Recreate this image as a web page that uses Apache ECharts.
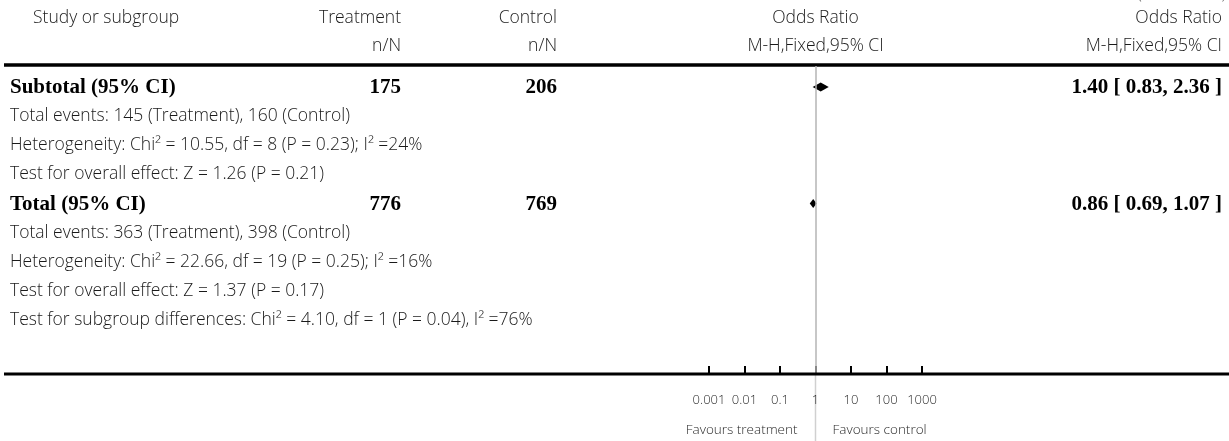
<!DOCTYPE html>
<html>
<head>
<meta charset="utf-8">
<script src="https://cdn.jsdelivr.net/npm/echarts@6/dist/echarts.min.js"></script>
<style>
  html, body { margin: 0; padding: 0; background: #fff; }
  #chart { width: 1229px; height: 441px; }
</style>
</head>
<body>
<div id="chart"></div>
<script>
// Column headings
const headerTop = ['Study or subgroup', 'Treatment', 'Control', 'Odds Ratio', 'Odds Ratio'];
const headerSub = ['', 'n/N', 'n/N', 'M-H,Fixed,95% CI', 'M-H,Fixed,95% CI'];

// Pooled estimates (row index in the table body)
const pooledLabels = ['Subtotal (95% CI)', 'Total (95% CI)'];
const pooledRows = [0, 4];
const treatmentN = [175, 776];
const controlN = [206, 769];
const oddsRatio = [1.40, 0.86];
const ciLower = [0.83, 0.69];
const ciUpper = [2.36, 1.07];

// Summary notes under each pooled row
const noteRows = [1, 2, 3, 5, 6, 7, 8];
const noteLines = [
  'Total events: 145 (Treatment), 160 (Control)',
  'Heterogeneity: Chi\u00b2 = 10.55, df = 8 (P = 0.23); I\u00b2 =24%',
  'Test for overall effect: Z = 1.26 (P = 0.21)',
  'Total events: 363 (Treatment), 398 (Control)',
  'Heterogeneity: Chi\u00b2 = 22.66, df = 19 (P = 0.25); I\u00b2 =16%',
  'Test for overall effect: Z = 1.37 (P = 0.17)',
  'Test for subgroup differences: Chi\u00b2 = 4.10, df = 1 (P = 0.04), I\u00b2 =76%'
];

// Log axis ticks
const tickValues = [0.001, 0.01, 0.1, 1, 10, 100, 1000];
const tickLabels = ['0.001', '0.01', '0.1', '1', '10', '100', '1000'];
const favourLabels = ['Favours treatment', 'Favours control'];
const nullEffect = 1;

const SANS = '"Open Sans", Lato, "DejaVu Sans", sans-serif';
const SERIF = '"Liberation Serif", "DejaVu Serif", serif';
const INK = '#1a1a1a';
const axisY = 374;

const chart = echarts.init(document.getElementById('chart'), null, { renderer: 'canvas' });

chart.setOption({
  animation: false,
  backgroundColor: '#fff',
  grid: { left: 709, right: 307, top: 66, bottom: 441 - axisY, containLabel: false },
  xAxis: {
    type: 'log',
    logBase: 10,
    position: 'bottom',
    min: tickValues[0],
    max: tickValues[tickValues.length - 1],
    axisLine: { show: false, onZero: false },
    axisTick: { show: true, inside: true, length: 8, lineStyle: { color: '#000', width: 2 } },
    splitLine: { show: false },
    axisLabel: {
      show: true,
      margin: 20,
      color: '#2a2a2a',
      fontFamily: SANS,
      fontWeight: 300,
      fontSize: 13,
      showMinLabel: true,
      showMaxLabel: true,
      formatter: function (v) {
        let best = 0;
        tickValues.forEach(function (t, i) {
          if (Math.abs(Math.log10(t) - Math.log10(v)) < Math.abs(Math.log10(tickValues[best]) - Math.log10(v))) best = i;
        });
        return tickLabels[best];
      }
    }
  },
  yAxis: {
    type: 'value',
    inverse: true,
    min: -0.72,
    max: 9.85,
    show: false
  },
  series: [
    {
      type: 'custom',
      z: 1,
      silent: true,
      data: [],
      renderItem: function () { return null; },
      markLine: {
        silent: true,
        symbol: 'none',
        label: { show: false },
        lineStyle: { color: '#b4b4b4', width: 1.5, type: 'solid' },
        data: [{ xAxis: nullEffect }]
      }
    },
    {
      type: 'custom',
      z: 3,
      silent: true,
      data: pooledRows.map(function (r, i) { return [oddsRatio[i], ciLower[i], ciUpper[i], r]; }),
      encode: { x: [0, 1, 2], y: 3 },
      renderItem: function (params, api) {
        const row = api.value(3);
        const c = api.coord([api.value(0), row]);
        const lo = api.coord([api.value(1), row]);
        const hi = api.coord([api.value(2), row]);
        const hh = 4.5;
        return {
          type: 'polygon',
          shape: { points: [[lo[0], c[1]], [c[0], c[1] - hh], [hi[0], c[1]], [c[0], c[1] + hh]] },
          style: { fill: '#000', stroke: null }
        };
      }
    }
  ]
});

// Table text and rules, placed on the same row scale as the diamonds
const rowY = function (r) { return chart.convertToPixel({ yAxisIndex: 0 }, r); };
const nullX = chart.convertToPixel({ xAxisIndex: 0 }, nullEffect);

const graphics = [];
function addText(x, y, text, align, font) {
  graphics.push({
    type: 'text', x: x, y: y, silent: true,
    style: Object.assign({ text: text, align: align, verticalAlign: 'middle', fill: INK }, font)
  });
}
const regular = { fontFamily: SANS, fontSize: 17.5, fontWeight: 300 };
const heading = { fontFamily: SANS, fontSize: 17.5, fontWeight: 300 };
const bold = { fontFamily: SERIF, fontSize: 21, fontWeight: 'bold', fill: '#000' };

// header
const headX = [33, 401, 557, nullX, 1222];
const headAlign = ['left', 'right', 'right', 'center', 'right'];
headerTop.forEach(function (t, i) { addText(headX[i], 18, t, headAlign[i], heading); });
headerSub.forEach(function (t, i) { if (t) addText(headX[i], 46, t, headAlign[i], heading); });
addText(1226, -6, '(Continued)', 'right', { fontFamily: SANS, fontSize: 17, fontWeight: 300, fill: '#666' });

// pooled rows
pooledRows.forEach(function (r, i) {
  const y = rowY(r) + 1;
  addText(10, y, pooledLabels[i], 'left', bold);
  addText(401, y, String(treatmentN[i]), 'right', bold);
  addText(557, y, String(controlN[i]), 'right', bold);
  addText(1222, y, oddsRatio[i].toFixed(2) + ' [ ' + ciLower[i].toFixed(2) + ', ' + ciUpper[i].toFixed(2) + ' ]', 'right', bold);
});

// notes
noteRows.forEach(function (r, i) { addText(10, rowY(r), noteLines[i], 'left', regular); });

// favours labels
const favourFont = { fontFamily: SANS, fontSize: 13.5, fontWeight: 300, fill: '#2a2a2a' };
addText(nullX - 18, 430, favourLabels[0], 'right', favourFont);
addText(nullX + 17, 430, favourLabels[1], 'left', favourFont);

// null line continues below the axis rule
graphics.push({ type: 'line', silent: true, shape: { x1: nullX, y1: axisY, x2: nullX, y2: 441 }, style: { stroke: '#d0d0d0', lineWidth: 1.5 } });

// horizontal rules
graphics.push({ type: 'line', silent: true, shape: { x1: 4, y1: 65, x2: 1229, y2: 65 }, style: { stroke: '#000', lineWidth: 3.5 } });
graphics.push({ type: 'line', silent: true, z: 5, shape: { x1: 4, y1: axisY, x2: 1229, y2: axisY }, style: { stroke: '#000', lineWidth: 3 } });

chart.setOption({ graphic: graphics });
</script>
</body>
</html>
